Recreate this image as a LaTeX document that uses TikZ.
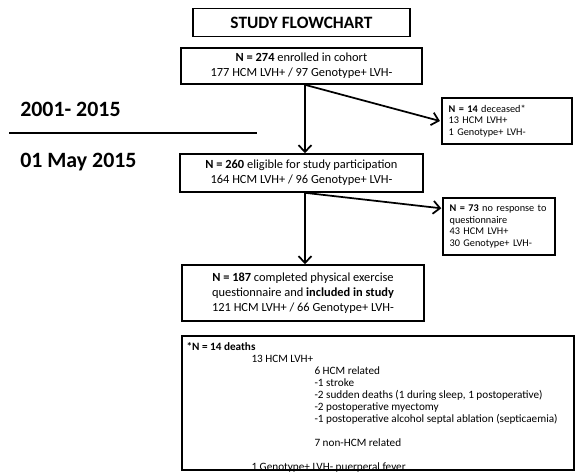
\documentclass[tikz,border=0pt]{standalone}
\usepackage{fontspec}
\setmainfont{Carlito}
\usepackage{tikz}
\usetikzlibrary{positioning,arrows.meta,calc}
\tikzset{
  >={Straight Barb[length=1.8mm,width=3.4mm]},
  titlebox/.style={draw,line width=1.2pt,minimum width=162.75pt,minimum height=21pt,
    font=\fontsize{13}{15}\selectfont\bfseries,inner sep=2pt},
  mainbox/.style={draw,line width=1.2pt,align=center,inner sep=2pt,
    font=\fontsize{9.3}{11.3}\selectfont},
  sidebox/.style={draw,line width=1.1pt,align=left,inner sep=5pt,
    font=\fontsize{7.7}{8.8}\selectfont},
  notebox/.style={draw,line width=1.1pt,minimum width=294pt,minimum height=100.5pt},
  notetxt/.style={align=left,inner sep=0pt,font=\fontsize{8.4}{9}\selectfont},
  yearlbl/.style={font=\fontsize{16.4}{19}\selectfont\bfseries,inner sep=0pt,anchor=west},
  flow/.style={->,line width=1.3pt},
  split/.style={line width=1.3pt},
}

\begin{document}
\begin{tikzpicture}[x=0.75pt,y=-0.75pt]
  \useasboundingbox (0,0) rectangle (576,472);
  % boxes of the flowchart
  \node[titlebox] (title) at (301.5,22.5) {STUDY FLOWCHART};
  \node[mainbox,minimum width=180.75pt,minimum height=27pt] (enrol) at (301.5,66)
    {\textbf{N = 274} enrolled in cohort\\ 177 HCM LVH+ / 97 Genotype+ LVH-};
  \node[mainbox,minimum width=182.25pt,minimum height=28.5pt] (elig) at (301.5,173)
    {\textbf{N = 260} eligible for study participation\\ 164 HCM LVH+ / 96 Genotype+ LVH-};
  \node[mainbox,minimum width=181.5pt,minimum height=42pt] (incl) at (303,293)
    {\textbf{N = 187} completed physical exercise\\ questionnaire and \textbf{included in study}\\
     121 HCM LVH+ / 66 Genotype+ LVH-};
  \node[sidebox,text width=87.5pt,minimum height=28.5pt] (dec) at (507,121)
    {\textbf{N = 14} deceased*\\ 13 HCM LVH+\\ 1 Genotype+ LVH-};
  \node[sidebox,text width=74pt,minimum height=39.75pt] (noresp) at (499,226.5)
    {\textbf{N = 73} no response to\\ questionnaire\\ 43 HCM LVH+\\ 30 Genotype+ LVH-};

  % time line on the left
  \node[yearlbl] (yrA) at (20,109) {2001- 2015};
  \node[yearlbl] (yrB) at (20,162) {01 May 2015};
  \coordinate (cutL) at (9,133);
  \coordinate (cutR) at (257,133);
  \draw[split] (cutL) -- (cutR);

  % arrows
  \draw[flow] ([xshift=2.6pt]enrol.south) -- ([xshift=2.6pt]elig.north);
  \draw[flow] ([xshift=2.6pt]enrol.south) -- ([xshift=-1pt]dec.west);
  \draw[flow] ([xshift=2.6pt]elig.south) -- ([xshift=1.5pt]incl.north);
  \draw[flow] ([xshift=2.6pt]elig.south) -- ($(noresp.north west)+(-1,11)$);

  % footnote on the deaths
  \node[notebox] (deaths) at (378,403) {};
  \node[notetxt,anchor=north west] (deathtxt) at ($(deaths.north west)+(5,7)$)
    {\textbf{*N = 14 deaths}\\
     \hspace*{48.75pt}13 HCM LVH+\\
     \hspace*{96pt}6 HCM related\\
     \hspace*{96pt}-1 stroke\\
     \hspace*{96pt}-2 sudden deaths (1 during sleep, 1 postoperative)\\
     \hspace*{96pt}-2 postoperative myectomy\\
     \hspace*{96pt}-1 postoperative alcohol septal ablation (septicaemia)\\[9pt]
     \hspace*{96pt}7 non-HCM related\\[9pt]
     \hspace*{48.75pt}1 Genotype+ LVH- puerperal fever};
\end{tikzpicture}
\end{document}
